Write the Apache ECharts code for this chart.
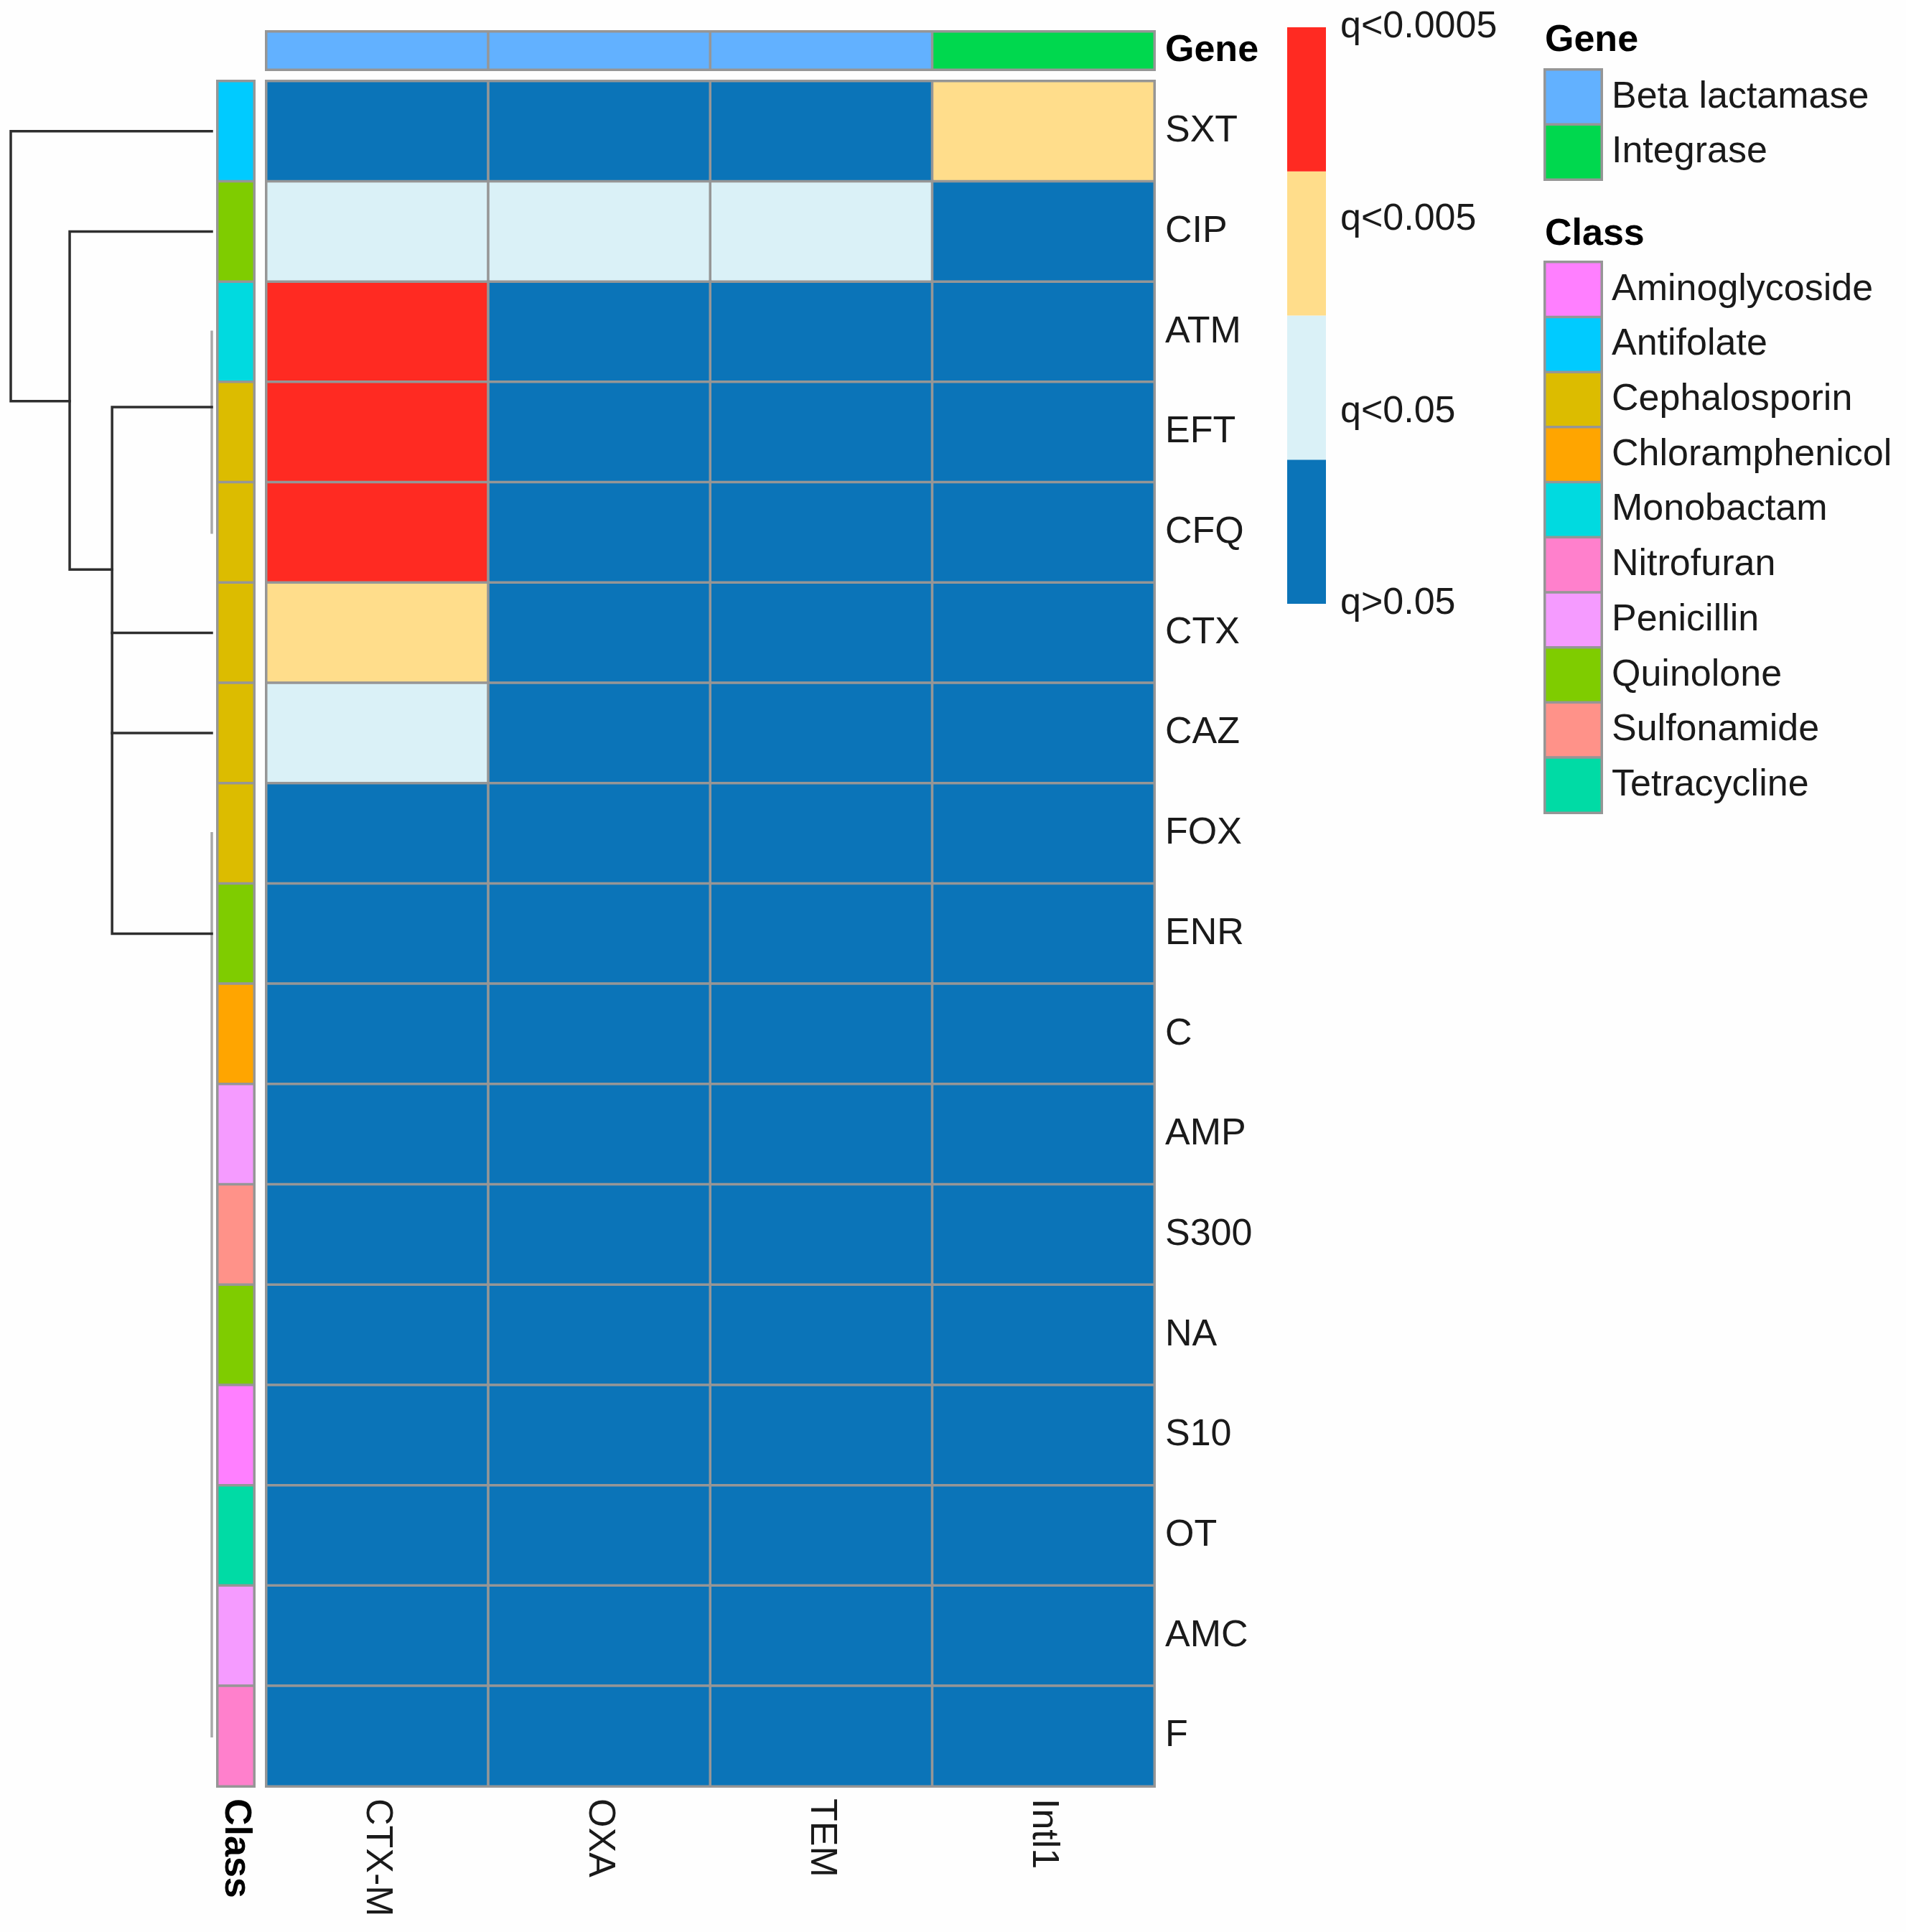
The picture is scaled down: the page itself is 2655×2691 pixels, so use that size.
<!DOCTYPE html>
<html>
<head>
<meta charset="utf-8">
<title>Gene / antibiotic heatmap</title>
<script src="https://cdn.jsdelivr.net/npm/echarts@6/dist/echarts.min.js"></script>
<style>
html, body { margin: 0; padding: 0; background: #fefefe; }
#main { width: 2655px; height: 2691px; }
</style>
</head>
<body>
<div id="main"></div>
<script>
// data
var columns = ['CTX-M', 'OXA', 'TEM', 'Intl1'];
var rows = ['SXT', 'CIP', 'ATM', 'EFT', 'CFQ', 'CTX', 'CAZ', 'FOX', 'ENR', 'C', 'AMP', 'S300', 'NA', 'S10', 'OT', 'AMC', 'F'];
// 0: q>0.05, 1: q<0.05, 2: q<0.005, 3: q<0.0005
var significance = [
    [0, 0, 0, 2],
    [1, 1, 1, 0],
    [3, 0, 0, 0],
    [3, 0, 0, 0],
    [3, 0, 0, 0],
    [2, 0, 0, 0],
    [1, 0, 0, 0],
    [0, 0, 0, 0],
    [0, 0, 0, 0],
    [0, 0, 0, 0],
    [0, 0, 0, 0],
    [0, 0, 0, 0],
    [0, 0, 0, 0],
    [0, 0, 0, 0],
    [0, 0, 0, 0],
    [0, 0, 0, 0],
    [0, 0, 0, 0]
];
var significanceLabels = ['q>0.05', 'q<0.05', 'q<0.005', 'q<0.0005'];
var significanceColors = ['#0b74b8', '#daf1f7', '#ffdd8b', '#ff2a22'];
var barSpans = [0.75, 0.75, 0.75, 0.75];

var geneNames = ['Beta lactamase', 'Integrase'];
var geneColors = ['#62b1ff', '#00d84e'];
var columnGene = [0, 0, 0, 1];

var classNames = ['Aminoglycoside', 'Antifolate', 'Cephalosporin', 'Chloramphenicol', 'Monobactam', 'Nitrofuran', 'Penicillin', 'Quinolone', 'Sulfonamide', 'Tetracycline'];
var classColors = ['#ff7fff', '#00cbff', '#dcbc00', '#ffa500', '#00dae0', '#ff80cc', '#f59bff', '#7fcc00', '#ff9289', '#00dba5'];
var rowClass = [1, 7, 4, 2, 2, 2, 2, 2, 7, 3, 6, 8, 7, 0, 9, 6, 5];

// dendrogram branches as [height, row position]
var branchesDark = [
    [[0, 0.5], [100, 0.5], [100, 3.19], [70.7, 3.19]],
    [[0, 1.5], [70.7, 1.5], [70.7, 4.87], [49.6, 4.87]],
    [[0, 3.25], [49.6, 3.25], [49.6, 8.5], [0, 8.5]],
    [[0, 5.5], [49.6, 5.5]],
    [[0, 6.5], [49.6, 6.5]]
];
var branchesFlat = [
    [[0, 2.5], [0, 4.5]],
    [[0, 7.5], [0, 16.5]]
];

var FONT = '"Liberation Sans", Arial, sans-serif';
var TEXT = '#1a1a1a';
var FONT_SIZE = 52;
var BORDER = { borderColor: '#969696', borderWidth: 3.5 };

var chart = echarts.init(document.getElementById('main'));

var grids = [];
var xAxes = [];
var yAxes = [];
var series = [];

function hiddenAxis(type, data, extra) {
    var axis = { type: type, show: false };
    if (data) axis.data = data;
    for (var k in extra) axis[k] = extra[k];
    return axis;
}

function labelAxis(data, extra, bold) {
    var axis = {
        type: 'category',
        data: data,
        axisLine: { show: false },
        axisTick: { show: false },
        splitLine: { show: false },
        axisLabel: {
            interval: 0,
            fontFamily: FONT,
            fontSize: FONT_SIZE,
            fontWeight: bold ? 'bold' : 'normal',
            color: bold ? '#000' : TEXT
        }
    };
    for (var k in extra) {
        if (k == 'axisLabel') {
            for (var j in extra[k]) axis.axisLabel[j] = extra[k][j];
        } else {
            axis[k] = extra[k];
        }
    }
    return axis;
}

function addCells(grid, xAxis, yAxis, data, border) {
    var idx = grids.length;
    grids.push(grid);
    xAxis.gridIndex = idx;
    yAxis.gridIndex = idx;
    xAxes.push(xAxis);
    yAxes.push(yAxis);
    series.push({
        type: 'heatmap',
        xAxisIndex: idx,
        yAxisIndex: idx,
        data: data,
        itemStyle: border
    });
}

// main heatmap
var mainCells = [];
for (var r = 0; r < rows.length; r++) {
    for (var c = 0; c < columns.length; c++) {
        mainCells.push({
            value: [c, r, significance[r][c]],
            itemStyle: { color: significanceColors[significance[r][c]] }
        });
    }
}
addCells(
    { left: 371, top: 113, width: 1237, height: 2375 },
    labelAxis(columns, { position: 'bottom', axisLabel: { rotate: -90, margin: 17 } }),
    labelAxis(rows, { position: 'right', inverse: true, axisLabel: { margin: 15 } }),
    mainCells, BORDER
);

// gene annotation on top
var geneCells = [];
for (var i = 0; i < columns.length; i++) {
    geneCells.push({ value: [i, 0, columnGene[i]], itemStyle: { color: geneColors[columnGene[i]] } });
}
addCells(
    { left: 371, top: 44, width: 1237, height: 53 },
    hiddenAxis('category', columns),
    labelAxis(['Gene'], { position: 'right', axisLabel: { margin: 15 } }, true),
    geneCells, BORDER
);

// class annotation on the left
var classCells = [];
for (var i = 0; i < rows.length; i++) {
    classCells.push({ value: [0, i, rowClass[i]], itemStyle: { color: classColors[rowClass[i]] } });
}
addCells(
    { left: 303, top: 113, width: 51, height: 2375 },
    labelAxis(['Class'], { position: 'bottom', axisLabel: { rotate: -90, margin: 17 } }, true),
    hiddenAxis('category', rows, { inverse: true }),
    classCells, BORDER
);

// gene legend
var geneLegend = [];
for (var i = 0; i < geneNames.length; i++) {
    geneLegend.push({ value: [0, i, i], itemStyle: { color: geneColors[i] } });
}
addCells(
    { left: 2152, top: 97, width: 79, height: 153 },
    hiddenAxis('category', ['Gene']),
    labelAxis(geneNames, { position: 'right', inverse: true, axisLabel: { margin: 14 } }),
    geneLegend, BORDER
);

// class legend
var classLegend = [];
for (var i = 0; i < classNames.length; i++) {
    classLegend.push({ value: [0, i, i], itemStyle: { color: classColors[i] } });
}
addCells(
    { left: 2152, top: 365, width: 79, height: 767 },
    hiddenAxis('category', ['Class']),
    labelAxis(classNames, { position: 'right', inverse: true, axisLabel: { margin: 14 } }),
    classLegend, BORDER
);

// colour bar
var barIdx = grids.length;
grids.push({ left: 1793, top: 38, width: 54, height: 803 });
xAxes.push(hiddenAxis('category', ['q'], { gridIndex: barIdx }));
yAxes.push({
    type: 'value',
    gridIndex: barIdx,
    position: 'right',
    min: 0,
    max: 3,
    interval: 1,
    axisLine: { show: false },
    axisTick: { show: false },
    splitLine: { show: false },
    axisLabel: {
        margin: 20,
        fontFamily: FONT,
        fontSize: FONT_SIZE,
        color: TEXT,
        formatter: function (v) { return significanceLabels[v]; }
    }
});
for (var i = 0; i < barSpans.length; i++) {
    series.push({
        type: 'bar',
        xAxisIndex: barIdx,
        yAxisIndex: barIdx,
        stack: 'colourbar',
        barWidth: '100%',
        data: [barSpans[i]],
        itemStyle: { color: significanceColors[i] }
    });
}

// dendrogram
var treeIdx = grids.length;
grids.push({ left: 15, top: 113, width: 280, height: 2375 });
xAxes.push(hiddenAxis('value', null, { gridIndex: treeIdx, min: 0, max: 100, inverse: true }));
yAxes.push(hiddenAxis('value', null, { gridIndex: treeIdx, min: 0, max: rows.length, inverse: true }));
function addBranches(list, color) {
    for (var i = 0; i < list.length; i++) {
        series.push({
            type: 'line',
            xAxisIndex: treeIdx,
            yAxisIndex: treeIdx,
            data: list[i],
            symbol: 'none',
            clip: false,
            silent: true,
            lineStyle: { color: color, width: 3.5, cap: 'square', join: 'miter' }
        });
    }
}
addBranches(branchesFlat, '#a8a8a8');
addBranches(branchesDark, '#2e2e2e');

var option = {
    backgroundColor: '#fefefe',
    animation: false,
    textStyle: { fontFamily: FONT },
    title: [
        { text: 'Gene', left: 2152, top: 31, padding: 0, textStyle: { fontFamily: FONT, fontSize: FONT_SIZE, fontWeight: 'bold', color: '#000' } },
        { text: 'Class', left: 2152, top: 301, padding: 0, textStyle: { fontFamily: FONT, fontSize: FONT_SIZE, fontWeight: 'bold', color: '#000' } }
    ],
    grid: grids,
    xAxis: xAxes,
    yAxis: yAxes,
    series: series
};
chart.setOption(option);
</script>
</body>
</html>
